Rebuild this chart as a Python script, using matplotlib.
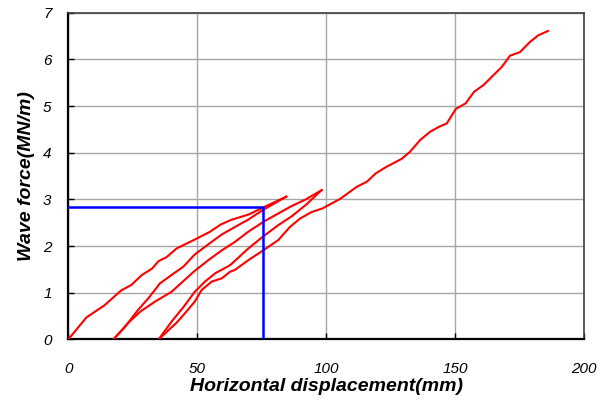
import matplotlib
matplotlib.use("Agg")
import matplotlib.pyplot as plt

# Loading / unloading branches (x: mm, y: MN/m)
load1_x = [0, 7, 14, 20.5, 24.5, 28.5, 32.5, 35, 38, 42, 49, 55, 59, 63, 70, 75.6, 84.5]
load1_y = [0, 0.47, 0.73, 1.05, 1.17, 1.38, 1.52, 1.68, 1.76, 1.95, 2.14, 2.31, 2.46, 2.56, 2.68, 2.83, 3.06]

unload1_x = [84.5, 75.6, 69.8, 64.6, 59.5, 54.3, 49, 44.6, 40, 35.5, 33, 31, 27, 22, 17.5]
unload1_y = [3.06, 2.78, 2.57, 2.41, 2.25, 2.04, 1.82, 1.56, 1.38, 1.20, 1.02, 0.88, 0.63, 0.27, 0]

load2_x = [17.5, 23.3, 28, 33.6, 40, 45, 49, 54.3, 59.5, 64.6, 69.8, 75.6, 81.4, 86.6, 92, 98.2]
load2_y = [0, 0.36, 0.60, 0.81, 1.02, 1.27, 1.47, 1.70, 1.91, 2.09, 2.31, 2.52, 2.70, 2.86, 3.00, 3.20]

unload2_x = [98.2, 92, 86.6, 81.4, 74.9, 69.8, 62.7, 57, 53, 49, 45, 40, 35]
unload2_y = [3.20, 2.88, 2.64, 2.45, 2.18, 1.95, 1.59, 1.42, 1.24, 1.02, 0.72, 0.38, 0]

load3_x = [35, 42, 45.2, 49, 51.7, 55.6, 59.5, 62.7, 64.6, 69.8, 75.6, 81.4, 85.9, 89.8, 94.3,
           98.6, 105.3, 111.8, 115.7, 119.2, 123, 129.2, 132.4, 136.3, 140.2, 143.4, 146.7,
           150.2, 154, 157.3, 160.9, 164.7, 168, 171.2, 175.1, 178.8, 182.2, 185.9]
load3_y = [0, 0.36, 0.56, 0.81, 1.06, 1.24, 1.31, 1.45, 1.49, 1.70, 1.91, 2.13, 2.41, 2.59, 2.73,
           2.81, 3.01, 3.27, 3.38, 3.56, 3.69, 3.87, 4.02, 4.27, 4.45, 4.55, 4.63,
           4.94, 5.06, 5.31, 5.45, 5.66, 5.84, 6.08, 6.16, 6.37, 6.52, 6.61]

# Reference lines
ref_x = 75.6
ref_y = 2.84

x_ticks = [0, 50, 100, 150, 200]
y_ticks = [0, 1, 2, 3, 4, 5, 6, 7]

plt.rcParams['font.family'] = ['Liberation Sans', 'DejaVu Sans']

fig = plt.figure(figsize=(6.08, 4.01), dpi=100)
ax = fig.add_axes([0.1123, 0.1536, 0.961 - 0.1123, 0.968 - 0.1536])

for xs, ys in [(load1_x, load1_y), (unload1_x, unload1_y), (load2_x, load2_y),
               (unload2_x, unload2_y), (load3_x, load3_y)]:
    ax.plot(xs, ys, color='#ff0000', lw=1.5, zorder=3, solid_joinstyle='round')

ax.plot([0, ref_x, ref_x], [ref_y, ref_y, 0], color='#0000ff', lw=1.8, zorder=4)

ax.set_xlim(x_ticks[0], x_ticks[-1])
ax.set_ylim(y_ticks[0], y_ticks[-1])
ax.set_xticks(x_ticks)
ax.set_yticks(y_ticks)
ax.grid(True, color='#a6a6a6', lw=1.0, zorder=0)
ax.set_axisbelow(True)

ax.tick_params(direction='in', length=4, width=1, colors='black')
ax.tick_params(axis='x', pad=16, labelsize=11)
ax.tick_params(axis='y', pad=12, labelsize=11)
for lab in ax.get_xticklabels() + ax.get_yticklabels():
    lab.set_fontstyle('italic')

for s in ['left', 'bottom']:
    ax.spines[s].set_color('black')
    ax.spines[s].set_linewidth(1.6)
for s in ['top', 'right']:
    ax.spines[s].set_color('#404040')
    ax.spines[s].set_linewidth(1.2)

ax.set_xlabel('Horizontal displacement(mm)', fontsize=14, fontweight='bold',
              fontstyle='italic', labelpad=2)
ax.set_ylabel('Wave force(MN/m)', fontsize=14, fontweight='bold',
              fontstyle='italic', labelpad=6)

fig.savefig('out.png', dpi=100)
